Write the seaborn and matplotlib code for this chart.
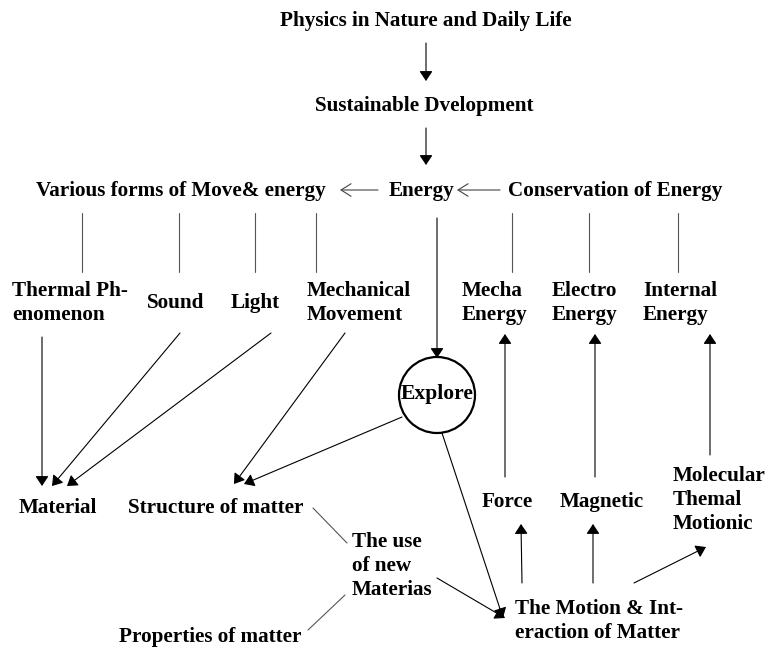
import matplotlib
matplotlib.use('Agg')
import matplotlib.pyplot as plt
import seaborn as sns
from matplotlib.patches import Circle

sns.set_theme(style='white')
plt.rcParams['font.family'] = ['Liberation Serif', 'DejaVu Serif']

# node labels with (x, y, alignment) in pixel space of the 768x649 canvas
node_text = {
    'top': 'Physics in Nature and Daily Life',
    'sus': 'Sustainable Dvelopment',
    'forms': 'Various forms of Move& energy',
    'energy': 'Energy',
    'cons': 'Conservation of Energy',
    'thermal': 'Thermal Ph-\nenomenon',
    'sound': 'Sound',
    'light': 'Light',
    'mech': 'Mechanical\nMovement',
    'mecha': 'Mecha\nEnergy',
    'electro': 'Electro\nEnergy',
    'internal': 'Internal\nEnergy',
    'material': 'Material',
    'structure': 'Structure of matter',
    'use': 'The use\nof new\nMaterias',
    'props': 'Properties of matter',
    'force': 'Force',
    'magnetic': 'Magnetic',
    'molecular': 'Molecular\nThemal\nMotionic',
    'motion': 'The Motion & Int-\neraction of Matter',
}
node_pos = {
    'top': (426, 21, 'center'), 'sus': (424, 106, 'center'),
    'forms': (181, 191, 'center'), 'energy': (422, 191, 'center'),
    'cons': (615, 191, 'center'),
    'thermal': (12, 303, 'left'), 'sound': (176, 303, 'center'),
    'light': (255, 303, 'center'), 'mech': (307, 303, 'left'),
    'mecha': (462, 303, 'left'), 'electro': (552, 303, 'left'),
    'internal': (643, 303, 'left'),
    'material': (58, 508, 'center'), 'structure': (216, 508, 'center'),
    'use': (352, 566, 'left'), 'props': (210, 637, 'center'),
    'force': (507, 502, 'center'), 'magnetic': (602, 502, 'center'),
    'molecular': (673, 500, 'left'), 'motion': (515, 621, 'left'),
}

# filled-head arrows: (x0, y0) -> (x1, y1)
arrows = [
    ((426, 43), (426, 81)), ((426, 128), (426, 165)),
    ((437, 218), (437, 358)),
    ((42, 337), (42, 486)), ((180, 333), (52, 486)), ((271, 333), (67, 486)),
    ((345, 333), (234, 484)), ((402, 417), (244, 484)),
    ((442, 433), (503, 618)), ((437, 578), (505, 618)),
    ((522, 583), (521, 524)), ((593, 583), (593, 524)),
    ((634, 583), (706, 547)),
    ((505, 477), (505, 334)), ((595, 477), (595, 334)), ((710, 455), (710, 334)),
]
# open-head arrows pointing left
open_arrows = [((378, 190), (340, 190)), ((500, 190), (457, 190))]
# plain connector lines
lines = [
    ((82, 213), (82, 272)), ((179, 213), (179, 272)), ((255, 213), (255, 272)),
    ((316, 213), (316, 272)), ((512, 213), (512, 272)), ((589, 213), (589, 272)),
    ((678, 213), (678, 272)),
    ((313, 508), (347, 543)), ((308, 630), (345, 595)),
]

fig = plt.figure(figsize=(7.68, 6.49), dpi=100)
ax = fig.add_axes([0, 0, 1, 1])
ax.set_xlim(0, 768)
ax.set_ylim(649, 0)
ax.axis('off')

for key, label in node_text.items():
    x, y, ha = node_pos[key]
    ax.text(x, y, label, ha=ha, va='center', fontsize=15.2, fontweight='bold',
            color='black', linespacing=1.25, multialignment='left')

for (x0, y0), (x1, y1) in arrows:
    ax.annotate('', xy=(x1, y1), xytext=(x0, y0),
                arrowprops=dict(arrowstyle='-|>,head_length=0.3,head_width=0.2',
                                color='black', lw=0.8,
                                mutation_scale=20, shrinkA=0, shrinkB=0))

for (x0, y0), (x1, y1) in open_arrows:
    ax.annotate('', xy=(x1, y1), xytext=(x0, y0),
                arrowprops=dict(arrowstyle='->,head_length=0.4,head_width=0.25',
                                color='#444444', lw=0.8,
                                mutation_scale=18, shrinkA=0, shrinkB=0))

for (x0, y0), (x1, y1) in lines:
    ax.plot([x0, x1], [y0, y1], color='#555555', lw=0.8)

ax.add_patch(Circle((437, 395), 38, fill=False, edgecolor='black', lw=1.6))
ax.text(437, 394, 'Explore', ha='center', va='center', fontsize=15.6,
        fontweight='bold', color='black')

fig.savefig('out.png', dpi=100, facecolor='white')
